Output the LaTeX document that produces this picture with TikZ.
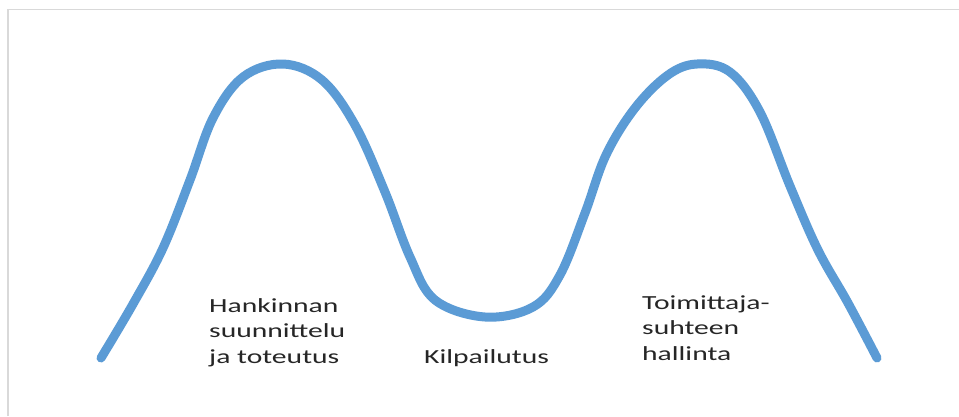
\documentclass[tikz,border=0pt]{standalone}
\usepackage{fontspec}
\setmainfont{Carlito}[FakeStretch=1.48]
\definecolor{curveblue}{HTML}{5B9BD5}
\definecolor{framegray}{HTML}{D9D9D9}
\definecolor{textgray}{HTML}{262626}
\begin{document}
\begin{tikzpicture}[x=1pt,y=-1pt,
  lbl/.style={anchor=base west,inner sep=0pt,align=left,text=textgray,
    font=\fontsize{20}{25.5}\selectfont},
  curve/.style={draw=curveblue,line width=9pt,line cap=round,line join=round}]
\useasboundingbox (0,0) rectangle (959,416);
\fill[white] (0,0) rectangle (959,416);
\coordinate (ftl) at (8,9.5);
\coordinate (ftr) at (959,9.5);
\coordinate (fbl) at (8,416);
\draw[framegray,line width=1.2pt] (fbl) -- (ftl) -- (ftr);
\draw[curve] plot[smooth,tension=0.6] coordinates {
(101,358) (133,304) (163,248) (190,180) (213,118) (243,77) (283,64)
(322,80) (355,125) (385,192) (410,257) (435,300) (485,317)
(533,307) (560,275) (585,213) (606,155) (635,108) (668,75) (697,64)
(730,72) (760,112) (790,186) (818,250) (848,303) (877,358)};
\node[lbl] (hank) at (209,363) {Hankinnan\\suunnittelu\\ja toteutus};
\node[lbl] (kilp) at (424,363) {Kilpailutus};
\node[lbl] (toim) at (642,360) {Toimittaja-\\suhteen\\hallinta};
\end{tikzpicture}
\end{document}
